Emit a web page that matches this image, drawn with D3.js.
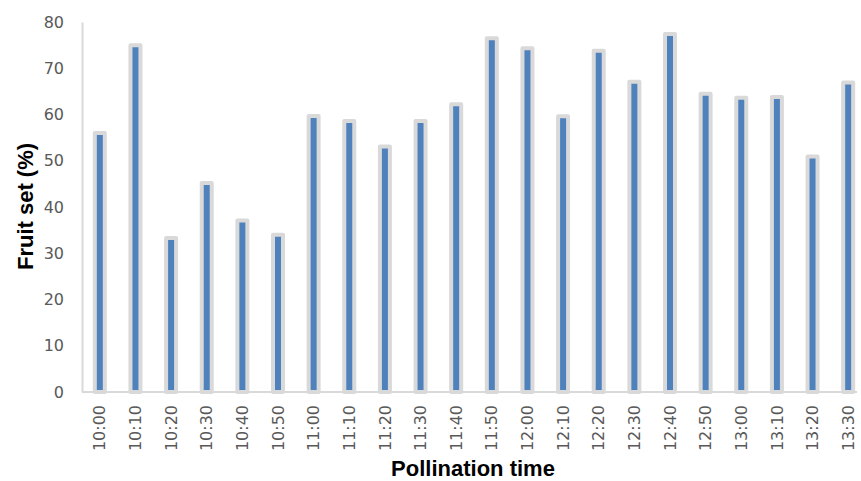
<!DOCTYPE html>
<html>
<head>
<meta charset="utf-8">
<script src="https://cdn.jsdelivr.net/npm/d3@7"></script>
<style>
  body { margin: 0; background: #fff; }
  svg { display: block; }
</style>
</head>
<body>
<div id="chart-area"><svg></svg></div>
<script>
const times = ['10:00', '10:10', '10:20', '10:30', '10:40', '10:50', '11:00', '11:10', '11:20', '11:30',
    '11:40', '11:50', '12:00', '12:10', '12:20', '12:30', '12:40', '12:50', '13:00', '13:10', '13:20', '13:30'];
const fruitSet = [56, 75, 33.3, 45.2, 37.1, 34, 59.7, 58.6, 53.1, 58.6,
    62.2, 76.5, 74.3, 59.6, 73.8, 67.1, 77.4, 64.5, 63.6, 63.8, 50.9, 66.9];
const yTicks = [0, 10, 20, 30, 40, 50, 60, 70, 80];

const chartSize = { width: 861, height: 481 };
const margin = { left: 82, right: 0, top: 22, bottom: 89 };
const width = chartSize.width - margin.left - margin.right;
const height = chartSize.height - margin.top - margin.bottom;

const tickFont = '16px "DejaVu Sans", Verdana, sans-serif';
const labelFont = 'bold 22px "Liberation Sans", Arial, sans-serif';

const svg = d3.select('#chart-area svg')
    .attr('width', chartSize.width)
    .attr('height', chartSize.height);

const g = svg.append('g')
    .attr('transform', `translate(${margin.left},${margin.top})`);

const y = d3.scaleLinear().domain([0, 80]).range([height, 0]);
const x = d3.scaleBand().domain(times).range([0, 784]);

const y_axis = d3.axisLeft(y).tickValues(yTicks).tickSize(0).tickPadding(18);
const x_axis = d3.axisBottom(x).tickSize(0).tickPadding(0);

const yg = g.append('g').attr('class', 'y-axis').call(y_axis);
yg.select('.domain').attr('stroke', '#d9d9d9').attr('stroke-width', 2);
yg.selectAll('text')
    .attr('fill', '#595959')
    .style('font', tickFont);

const bars = g.selectAll('rect.bar').data(fruitSet).enter();
bars.append('rect')
    .attr('class', 'bar')
    .attr('x', (d, i) => x(times[i]) + x.bandwidth() / 2 - 5)
    .attr('y', d => y(d))
    .attr('width', 10)
    .attr('height', d => y(0) - y(d))
    .attr('fill', '#4f81bd')
    .attr('stroke', '#d9d9d9')
    .attr('stroke-width', 4)
    .attr('stroke-linejoin', 'round');

const xg = g.append('g')
    .attr('class', 'x-axis')
    .attr('transform', `translate(0,${height})`)
    .call(x_axis);
xg.select('.domain').attr('stroke', '#d9d9d9').attr('stroke-width', 2)
    .attr('d', `M0,0H${width - 4}`);
xg.selectAll('text')
    .attr('fill', '#595959')
    .style('font', tickFont)
    .attr('text-anchor', 'end')
    .attr('dy', '0.35em')
    .attr('x', -13)
    .attr('y', 0)
    .attr('transform', 'rotate(-90)');

g.append('text')
    .attr('class', 'x axis-label')
    .attr('x', 391)
    .attr('y', height + 84)
    .attr('text-anchor', 'middle')
    .style('font', labelFont)
    .text('Pollination time');

g.append('text')
    .attr('class', 'y axis-label')
    .attr('transform', 'rotate(-90)')
    .attr('x', -184.5)
    .attr('y', -49)
    .attr('text-anchor', 'middle')
    .style('font', labelFont)
    .text('Fruit set (%)');
</script>
</body>
</html>
